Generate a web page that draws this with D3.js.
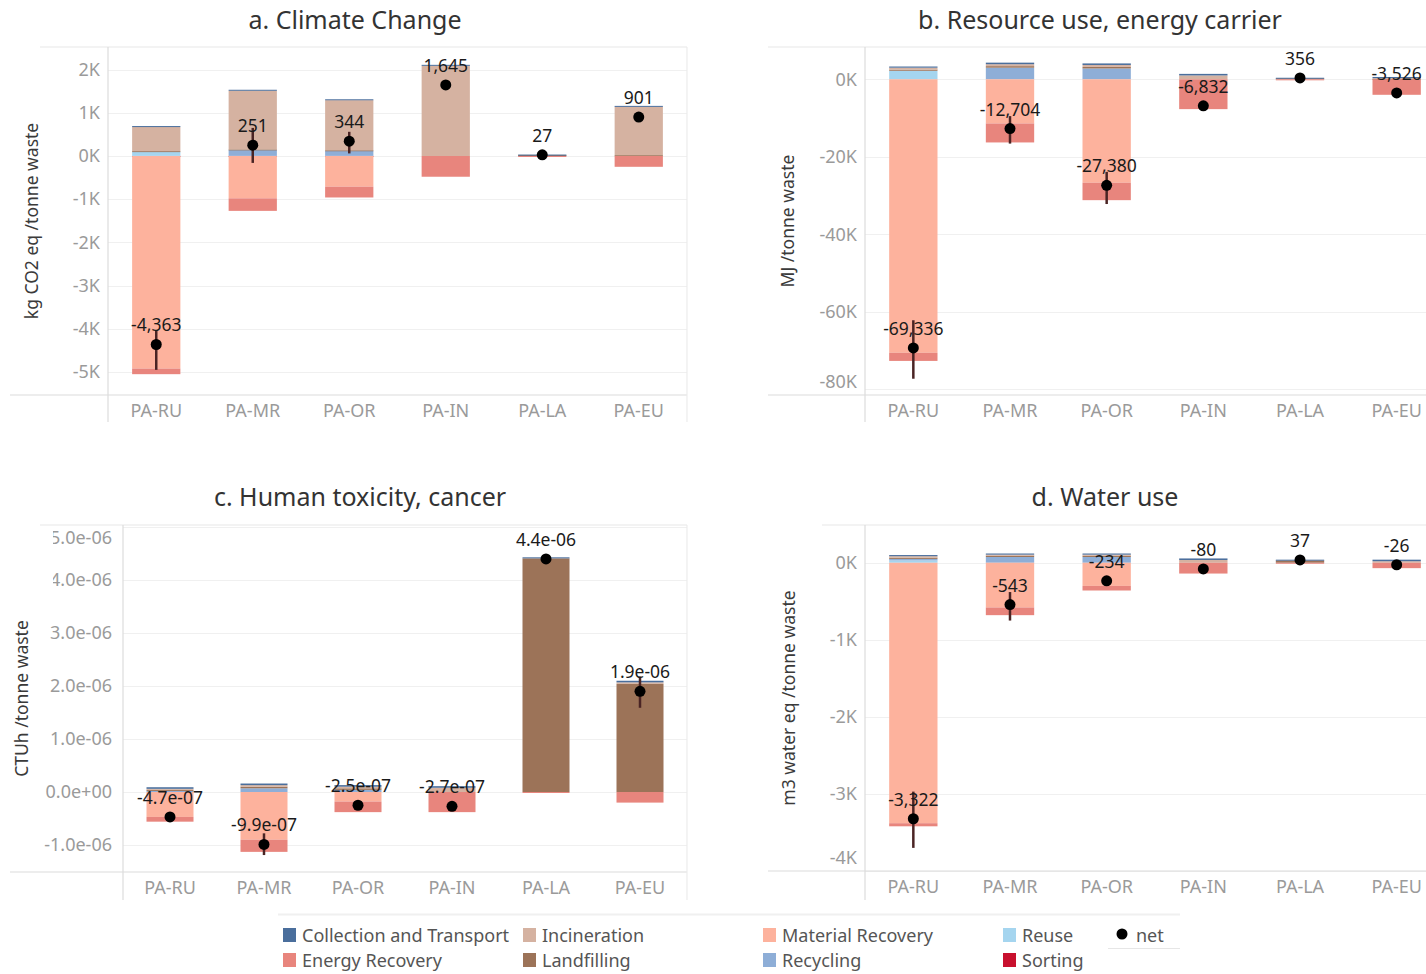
<!DOCTYPE html>
<html>
<head>
<meta charset="utf-8">
<script src="https://cdn.jsdelivr.net/npm/d3@7"></script>
<style>
  body { margin: 0; background: #fff; }
  svg { display: block; }
  text { font-family: "Noto Sans", "Open Sans", sans-serif; }
  .tick text { fill: #9a9a9a; font-size: 18px; font-family: "Noto Sans", sans-serif; }
</style>
</head>
<body>
<div id="graf"></div>
<script>
// categorias (escenarios)
const categories = ['PA-RU', 'PA-MR', 'PA-OR', 'PA-IN', 'PA-LA', 'PA-EU']

// series en el orden de la leyenda
const seriesNames = ['Collection and Transport', 'Energy Recovery', 'Incineration', 'Landfilling',
                     'Material Recovery', 'Recycling', 'Reuse', 'Sorting']
const seriesColors = ['#4a6e9c', '#e8857d', '#d5b2a1', '#9c7358',
                      '#fdb29d', '#8eaed7', '#a5d5ef', '#c8102e']
// orden de apilado desde el cero hacia afuera
const stackOrder = ['Sorting', 'Reuse', 'Recycling', 'Material Recovery',
                    'Landfilling', 'Incineration', 'Energy Recovery', 'Collection and Transport']

// a. Climate Change (kg CO2 eq / tonne) - filas en el orden de seriesNames
const climateValues = [
  [20, 20, 20, 20, 8, 20],
  [-130, -290, -250, -480, -8, -250],
  [560, 1360, 1160, 2090, 0, 1120],
  [10, 10, 10, 0, 25, 20],
  [-4920, -980, -710, 0, 0, 0],
  [0, 140, 120, 0, 0, 0],
  [100, 0, 0, 0, 0, 0],
  [3, 3, 3, 0, 0, 0]
]
const climateNet = [-4363, 251, 344, 1645, 27, 901]
const climateErrLow  = [-4950, -160, 60, 1620, null, 830]
const climateErrHigh = [-4030, 650, 560, 1680, null, 950]
const climateTicks = [2000, 1000, 0, -1000, -2000, -3000, -4000, -5000]

// b. Resource use, energy carrier (MJ / tonne)
const resourceValues = [
  [300, 400, 400, 400, 150, 300],
  [-2100, -4900, -4500, -7700, -50, -4000],
  [500, 500, 500, 1000, 0, 200],
  [300, 400, 400, 0, 250, 100],
  [-70600, -11400, -26700, 0, 0, 0],
  [0, 3000, 2800, 0, 0, 0],
  [2200, 0, 0, 0, 0, 0],
  [0, 0, 0, 0, 0, 0]
]
const resourceNet = [-69336, -12704, -27380, -6832, 356, -3526]
const resourceErrLow  = [-77300, -16600, -32200, -7200, null, -3900]
const resourceErrHigh = [-62200, -9500, -23900, -6500, null, -3200]
const resourceTicks = [0, -20000, -40000, -60000, -80000]

// c. Human toxicity, cancer (CTUh / tonne)
const toxValues = [
  [0.03e-6, 0.03e-6, 0.03e-6, 0.03e-6, 0.02e-6, 0.03e-6],
  [-0.09e-6, -0.23e-6, -0.20e-6, -0.38e-6, -0.01e-6, -0.20e-6],
  [0.02e-6, 0.03e-6, 0.03e-6, 0.08e-6, 0, 0.03e-6],
  [0.02e-6, 0.03e-6, 0.03e-6, 0, 4.41e-6, 2.04e-6],
  [-0.47e-6, -0.90e-6, -0.18e-6, 0, 0, 0],
  [0.02e-6, 0.07e-6, 0.04e-6, 0, 0, 0],
  [0, 0, 0, 0, 0, 0],
  [0, 0, 0, 0, 0, 0]
]
const toxNet = [-4.7e-7, -9.9e-7, -2.5e-7, -2.7e-7, 4.4e-6, 1.9e-6]
const toxErrLow  = [null, -1.19e-6, null, null, null, 1.59e-6]
const toxErrHigh = [null, -0.78e-6, null, null, null, 2.18e-6]
const toxTicks = [5e-6, 4e-6, 3e-6, 2e-6, 1e-6, 0, -1e-6]

// d. Water use (m3 water eq / tonne)
const waterValues = [
  [15, 15, 15, 20, 10, 20],
  [-40, -100, -60, -140, -3, -70],
  [20, 15, 15, 36, 0, 20],
  [15, 15, 15, 0, 30, 0],
  [-3380, -580, -300, 0, 0, 0],
  [20, 75, 75, 0, 0, 0],
  [30, 0, 0, 0, 0, 0],
  [0, 0, 0, 0, 0, 0]
]
const waterNet = [-3322, -543, -234, -80, 37, -26]
const waterErrLow  = [-3700, -750, -280, null, null, null]
const waterErrHigh = [-2970, -380, -190, null, null, null]
const waterTicks = [0, -1000, -2000, -3000, -4000]

// formatos (guion normal como signo menos, igual que Tableau)
const locale = d3.formatLocale({ decimal: '.', thousands: ',', grouping: [3], currency: ['', ''], minus: '-' })
const fmtK = d => locale.format('d')(d / 1000) + 'K'
const fmtExp = d => {
  const s = d.toExponential(1)
  return s.replace(/e([+-])(\d)$/, 'e$10$2')
}
const fmtNum = locale.format(',')

const ancho_total = 1426
const alto_total = 974

const svg = d3.select('#graf').append('svg')
  .attr('width', ancho_total)
  .attr('height', alto_total)

const color = d3.scaleOrdinal().domain(seriesNames).range(seriesColors)

const panels = [
  { title: 'a. Climate Change', titleX: 355, titleY: 20, yLabel: 'kg CO2 eq /tonne waste', yLabelX: 32,
    values: climateValues, net: climateNet, errLow: climateErrLow, errHigh: climateErrHigh,
    ticks: climateTicks, fmt: fmtK, netFmt: fmtNum, domain: [-5532, 2523],
    left: 108, right: 687, top: 47, bottom: 395, axisEnd: 422, lineStart: 10, topStart: 40, rightLine: true, pad: 8 },
  { title: 'b. Resource use, energy carrier', titleX: 1100, titleY: 20, yLabel: 'MJ /tonne waste', yLabelX: 788,
    values: resourceValues, net: resourceNet, errLow: resourceErrLow, errHigh: resourceErrHigh,
    ticks: resourceTicks, fmt: fmtK, netFmt: fmtNum, domain: [-81500, 8340],
    left: 865, right: 1445, top: 47, bottom: 395, axisEnd: 422, lineStart: 768, topStart: 768, rightLine: false, pad: 8 },
  { title: 'c. Human toxicity, cancer', titleX: 360, titleY: 497, yLabel: 'CTUh /tonne waste', yLabelX: 22,
    values: toxValues, net: toxNet, errLow: toxErrLow, errHigh: toxErrHigh,
    ticks: toxTicks, fmt: fmtExp, netFmt: fmtExp, domain: [-1.51e-6, 5.04e-6],
    left: 123, right: 687, top: 525, bottom: 872, axisEnd: 900, lineStart: 10, topStart: 40, rightLine: true, pad: 11,
    clipLabels: 53 },
  { title: 'd. Water use', titleX: 1105, titleY: 497, yLabel: 'm3 water eq /tonne waste', yLabelX: 789,
    values: waterValues, net: waterNet, errLow: waterErrLow, errHigh: waterErrHigh,
    ticks: waterTicks, fmt: fmtK, netFmt: fmtNum, domain: [-4000, 490],
    left: 865, right: 1445, top: 525, bottom: 871, axisEnd: 900, lineStart: 768, topStart: 822, rightLine: false, pad: 8 }
]

panels.forEach(p => drawPanel(p))

function drawPanel(p) {
  const g = svg.append('g')

  const x = d3.scaleBand().domain(categories)
    .range([p.left, p.right]).paddingInner(0.5).paddingOuter(0.25)
  const y = d3.scaleLinear().domain(p.domain).range([p.bottom, p.top])

  // gridlines
  g.append('g').selectAll('line').data(p.ticks).join('line')
    .attr('x1', p.left).attr('x2', p.right)
    .attr('y1', d => Math.round(y(d)) + 0.5).attr('y2', d => Math.round(y(d)) + 0.5)
    .attr('stroke', '#f0f0f0')

  // marco
  const frame = g.append('g').attr('stroke', '#dcdcdc').attr('stroke-width', 1.2)
  frame.append('line').attr('x1', p.topStart).attr('x2', Math.min(p.right, ancho_total))
    .attr('y1', p.top).attr('y2', p.top).attr('stroke', '#e8e8e8')
  frame.append('line').attr('x1', p.lineStart).attr('x2', Math.min(p.right, ancho_total))
    .attr('y1', p.bottom).attr('y2', p.bottom)
  frame.append('line').attr('x1', p.left).attr('x2', p.left)
    .attr('y1', p.top).attr('y2', p.axisEnd)
  if (p.rightLine) {
    frame.append('line').attr('x1', p.right).attr('x2', p.right)
      .attr('y1', p.top).attr('y2', p.axisEnd).attr('stroke', '#ececec')
  }

  // ejes
  const yAxis = g.append('g')
    .attr('transform', `translate(${p.left}, 0)`)
    .call(d3.axisLeft(y).tickValues(p.ticks).tickSize(0).tickPadding(p.pad).tickFormat(p.fmt))
  yAxis.select('.domain').remove()
  // Tableau empuja las etiquetas de los bordes hacia adentro
  yAxis.selectAll('.tick text').attr('y', d => {
    const yy = y(d)
    if (yy - 8 < p.top) return p.top + 13 - yy
    if (yy + 8 > p.bottom) return p.bottom - 13 - yy
    return 0
  })
  if (p.clipLabels) {
    g.append('rect').attr('x', 0).attr('y', p.top + 2)
      .attr('width', p.clipLabels).attr('height', 70).attr('fill', '#fff')
  }

  const xAxis = g.append('g')
    .attr('transform', `translate(0, ${p.bottom})`)
    .call(d3.axisBottom(x).tickSize(0).tickPadding(9))
  xAxis.select('.domain').remove()

  // titulos
  g.append('text')
    .attr('x', p.titleX).attr('y', p.titleY).attr('dy', '0.35em')
    .attr('text-anchor', 'middle')
    .attr('font-size', 25).attr('fill', '#333')
    .text(p.title)
  g.append('text')
    .attr('transform', `translate(${p.yLabelX}, ${(p.top + p.bottom) / 2}) rotate(-90)`)
    .attr('dy', '0.35em')
    .attr('text-anchor', 'middle')
    .attr('font-size', 17.5).attr('fill', '#3a3a3a')
    .text(p.yLabel)

  // barras apiladas (positivo arriba, negativo abajo)
  const rows = categories.map((c, i) => {
    const o = { cat: c }
    seriesNames.forEach((s, k) => { o[s] = p.values[k][i] })
    return o
  })
  const stacked = d3.stack().keys(stackOrder).offset(d3.stackOffsetDiverging)(rows)

  g.append('g').selectAll('g').data(stacked).join('g')
    .attr('fill', d => color(d.key))
    .selectAll('rect').data(d => d.filter(v => v[1] !== v[0])).join('rect')
      .attr('x', d => x(d.data.cat))
      .attr('width', x.bandwidth())
      .attr('y', d => y(Math.max(d[0], d[1])))
      .attr('height', d => Math.max(1, Math.abs(y(d[0]) - y(d[1]))))

  // barras de error
  const err = categories.map((c, i) => ({ cat: c, lo: p.errLow[i], hi: p.errHigh[i] }))
    .filter(d => d.lo !== null)
  g.append('g').selectAll('line').data(err).join('line')
    .attr('x1', d => x(d.cat) + x.bandwidth() / 2).attr('x2', d => x(d.cat) + x.bandwidth() / 2)
    .attr('y1', d => y(d.lo)).attr('y2', d => y(d.hi))
    .attr('stroke', '#4a2424').attr('stroke-width', 2.5)

  // puntos netos
  const nets = categories.map((c, i) => ({ cat: c, v: p.net[i] }))
  g.append('g').selectAll('circle').data(nets).join('circle')
    .attr('cx', d => x(d.cat) + x.bandwidth() / 2)
    .attr('cy', d => y(d.v))
    .attr('r', 5.5)
    .attr('fill', '#000')

  g.append('g').selectAll('text').data(nets).join('text')
    .attr('x', d => x(d.cat) + x.bandwidth() / 2)
    .attr('y', d => y(d.v) - 13)
    .attr('text-anchor', 'middle')
    .attr('font-size', 17.5).attr('fill', '#1a1a1a')
    .text(d => p.netFmt(d.v))
}

// Leyenda
const legend = svg.append('g')
legend.append('line').attr('x1', 278).attr('x2', 1180).attr('y1', 914.5).attr('y2', 914.5)
  .attr('stroke', '#f0f0f0').attr('stroke-width', 2)
const colX = [283, 523, 763, 1003]
const items = legend.selectAll('g').data(seriesNames).join('g')
  .attr('transform', (d, i) => `translate(${colX[Math.floor(i / 2)]}, ${935 + (i % 2) * 25})`)
items.append('rect').attr('x', 0).attr('y', -7).attr('width', 13).attr('height', 14)
  .attr('fill', d => color(d))
items.append('text').attr('x', 19).attr('y', 1).attr('dy', '0.35em')
  .attr('font-size', 18).attr('fill', '#555')
  .text(d => d)
legend.append('circle').attr('cx', 1122).attr('cy', 934).attr('r', 5.5).attr('fill', '#000')
legend.append('text').attr('x', 1136).attr('y', 936).attr('dy', '0.35em')
  .attr('font-size', 18).attr('fill', '#555')
  .text('net')
legend.append('line').attr('x1', 1108).attr('x2', 1180).attr('y1', 948.5).attr('y2', 948.5)
  .attr('stroke', '#e6e6e6')
</script>
</body>
</html>
